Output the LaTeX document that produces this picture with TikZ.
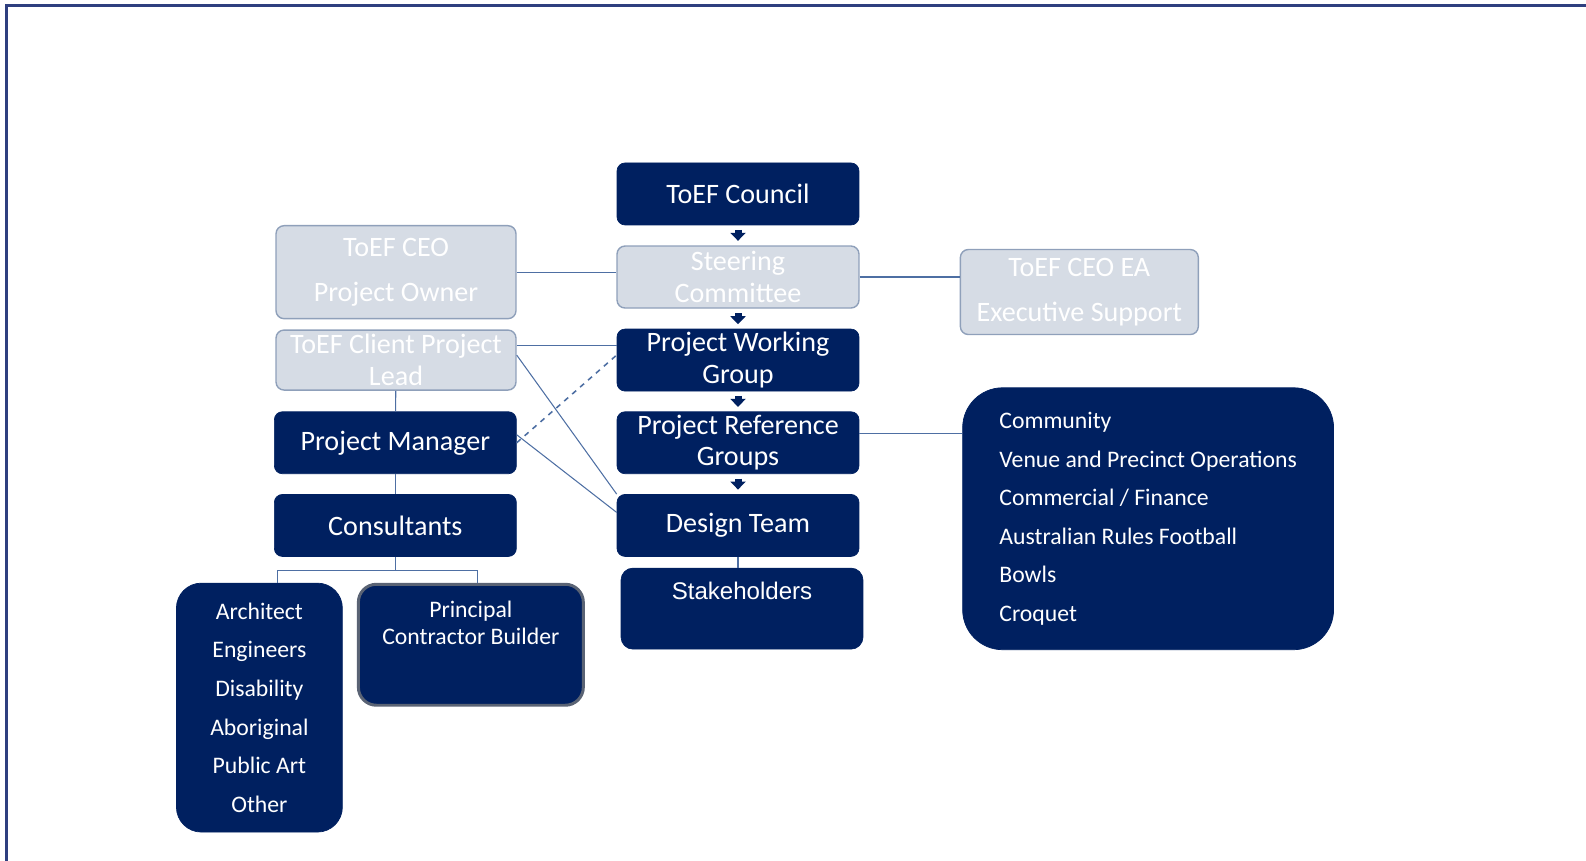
\documentclass[tikz,border=0pt]{standalone}
\usepackage{fontspec}
\setmainfont{Carlito}
\newfontfamily\arialfont{Liberation Sans}
\usepackage{tikz}
\usetikzlibrary{arrows.meta,positioning,calc}
\definecolor{navy}{HTML}{002060}
\definecolor{greyfill}{HTML}{D6DCE5}
\definecolor{greyline}{HTML}{8FA0BA}
\definecolor{linkblue}{HTML}{4E6FA3}
\definecolor{frameblue}{HTML}{2F3F7F}
\definecolor{pcbline}{HTML}{5A6374}
\tikzset{
    navybox/.style={draw=navy, fill=navy, rounded corners=0.16cm, text=white, minimum width=4.84cm, minimum height=1.24cm, inner sep=0pt, align=center, font=\fontsize{16}{18}\selectfont},
    greybox/.style={navybox, draw=greyline, fill=greyfill, line width=0.8pt},
    listbox/.style={draw=navy, fill=navy, text=white, inner sep=0pt, font=\fontsize{13.5}{22}\selectfont},
    link/.style={draw=linkblue, line width=0.6pt},
    dashlink/.style={link, dashed, line width=0.9pt},
    downarrow/.style={-{Triangle[length=0.16cm, width=0.3cm]}, line width=0.14cm, navy, shorten <=0.09cm, shorten >=0.09cm},
    frameline/.style={draw=frameblue, line width=1.7pt}
}
\begin{document}
\begin{tikzpicture}[x=0.02cm, y=0.02cm, node distance=0.4cm]
\useasboundingbox (0,0) rectangle (1586,861);
\draw[frameline] (6.5,0) -- (6.5,855.5) -- (1586,855.5);

% centre column
\node[navybox] (council) at (738,667) {ToEF Council};
\node[greybox, below=of council] (steer) {Steering\\Committee};
\node[navybox, below=of steer] (pwg) {Project Working\\Group};
\node[navybox, below=of pwg] (prg) {Project Reference\\Groups};
\node[navybox, below=of prg] (dt) {Design Team};
\node[navybox, below=0.22cm of dt, xshift=0.08cm, rounded corners=0.24cm, minimum height=1.62cm] (stake)
    {\parbox[c][1.62cm][t]{4.8cm}{\centering\arialfont\fontsize{13.7}{16}\selectfont\rule{0pt}{18pt}Stakeholders}};

% left column
\node[greybox, left=2cm of pwg, minimum width=4.8cm, minimum height=1.2cm] (lead) {ToEF Client Project\\Lead};
\node[greybox, above=0.2cm of lead, minimum width=4.8cm, minimum height=1.86cm, font=\fontsize{16}{25.5}\selectfont] (ceo) {ToEF CEO\\Project Owner};
\node[navybox, left=2cm of prg] (pm) {Project Manager};
\node[navybox, left=2cm of dt] (cons) {Consultants};
\node[listbox, below=0.52cm of cons, xshift=-2.72cm, rounded corners=0.5cm, minimum width=3.32cm, minimum height=4.98cm, align=center]
    (arch) {Architect\\Engineers\\Disability\\Aboriginal\\Public Art\\Other};
\node[listbox, below=0.52cm of cons, xshift=1.51cm, draw=pcbline, line width=1.7pt, rounded corners=0.36cm, font=\fontsize{13.5}{15.5}\selectfont]
    (pcb) {\parbox[c][2.42cm][t]{4.5cm}{\centering\rule{0pt}{19pt}Principal\\Contractor Builder}};

% right side
\node[greybox, right=2cm of steer, yshift=-0.3cm, minimum width=4.76cm, minimum height=1.7cm, font=\fontsize{16}{26}\selectfont] (ea) {ToEF CEO EA\\Executive Support};
\node[listbox, right=2.06cm of prg.north east, anchor=north west, yshift=0.48cm, rounded corners=0.8cm, minimum width=7.42cm, minimum height=5.24cm, align=left]
    (groups) {Community\\Venue and Precinct Operations\\Commercial / Finance\\Australian Rules Football\\Bowls\\Croquet};

% reporting line
\draw[downarrow] (council) -- (steer);
\draw[downarrow] (steer) -- (pwg);
\draw[downarrow] (pwg) -- (prg);
\draw[downarrow] (prg) -- (dt);

% links
\draw[link] (ceo.east) -- (ceo.east -| steer.west);
\draw[link] (steer.east) -- (steer.east -| ea.west);
\draw[link] ([yshift=0.3cm]lead.east) -- ([yshift=0.3cm]lead.east -| pwg.west);
\draw[link] ([yshift=0.1cm]lead.east) -- (dt.north west);
\draw[link] ([yshift=0.16cm]pm.east) -- ([yshift=0.26cm]dt.west);
\draw[dashlink] (pm.east) -- ([yshift=0.1cm]pwg.west);
\draw[link] (lead) -- (pm);
\draw[link] (pm) -- (cons);
\draw[link] ([yshift=0.18cm]prg.east) -- ([yshift=0.18cm]prg.east -| groups.west);
\draw[link] (dt.south) -- (dt.south |- stake.north);
\draw[link] (cons.south) -- ++(0,-0.28cm) coordinate (bus);
\draw[link] ([xshift=0.36cm]arch.north) |- (bus) -| ([xshift=0.13cm]pcb.north);
\end{tikzpicture}
\end{document}
